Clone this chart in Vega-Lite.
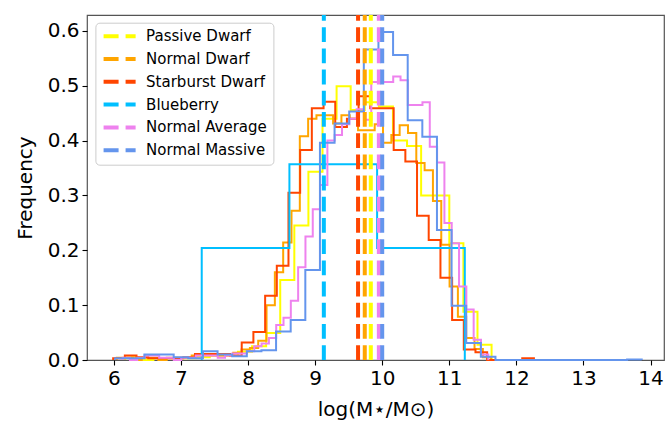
{
"$schema": "https://vega.github.io/schema/vega-lite/v6.json",
"width": 577, "height": 345,
"autosize": {"type": "none"},
"padding": {"left": 87, "top": 15, "right": 6, "bottom": 62},
"background": "white",
"config": {
 "font": "DejaVu Sans",
 "view": {"stroke": "#555555", "strokeWidth": 1.2},
 "axis": {"grid": false, "domain": false, "tickColor": "#000000", "tickSize": 5, "tickWidth": 1.1, "labelColor": "#000000", "labelFontSize": 20, "labelPadding": 3, "titleColor": "#000000", "titleFontSize": 20, "titleFontWeight": "normal"},
 "legend": {"orient": "none", "legendX": 8.4, "legendY": 7.7, "title": null, "fillColor": "rgba(255,255,255,0.8)", "strokeColor": "#cccccc", "cornerRadius": 4, "padding": 6, "labelFontSize": 15, "labelColor": "#000000", "labelOffset": 19, "rowPadding": 5.8, "symbolType": "M-3,0H3", "symbolSize": 114, "symbolStrokeWidth": 4, "symbolDash": [15, 7], "symbolOffset": 10.7}
},
"datasets": {
 "pd": [{"x":6.17,"y":0},{"x":6.17,"y":0.005},{"x":6.38,"y":0},{"x":6.59,"y":0.003},{"x":6.80,"y":0.003},{"x":7.01,"y":0.003},{"x":7.22,"y":0.005},{"x":7.43,"y":0.008},{"x":7.64,"y":0.008},{"x":7.85,"y":0.015},{"x":8.06,"y":0.025},{"x":8.27,"y":0.049},{"x":8.48,"y":0.146},{"x":8.69,"y":0.245},{"x":8.90,"y":0.343},{"x":9.11,"y":0.44},{"x":9.32,"y":0.499},{"x":9.53,"y":0.456},{"x":9.74,"y":0.47},{"x":9.95,"y":0.462},{"x":10.16,"y":0.40},{"x":10.37,"y":0.39},{"x":10.58,"y":0.30},{"x":10.79,"y":0.30},{"x":11.00,"y":0.213},{"x":11.21,"y":0.088},{"x":11.42,"y":0.028},{"x":11.63,"y":0}],
 "nd": [{"x":6.044,"y":0},{"x":6.044,"y":0.004},{"x":6.168,"y":0.004},{"x":6.292,"y":0},{"x":6.416,"y":0.004},{"x":6.540,"y":0.004},{"x":6.664,"y":0},{"x":6.788,"y":0.004},{"x":6.912,"y":0.004},{"x":7.036,"y":0.004},{"x":7.160,"y":0.008},{"x":7.284,"y":0.008},{"x":7.408,"y":0.008},{"x":7.532,"y":0.008},{"x":7.656,"y":0.008},{"x":7.780,"y":0.013},{"x":7.904,"y":0.019},{"x":8.028,"y":0.022},{"x":8.152,"y":0.035},{"x":8.276,"y":0.10},{"x":8.400,"y":0.16},{"x":8.524,"y":0.214},{"x":8.648,"y":0.272},{"x":8.772,"y":0.408},{"x":8.896,"y":0.44},{"x":9.020,"y":0.446},{"x":9.144,"y":0.446},{"x":9.268,"y":0.431},{"x":9.392,"y":0.446},{"x":9.516,"y":0.44},{"x":9.640,"y":0.419},{"x":9.764,"y":0.419},{"x":9.888,"y":0.43},{"x":10.012,"y":0.396},{"x":10.136,"y":0.41},{"x":10.260,"y":0.428},{"x":10.384,"y":0.414},{"x":10.508,"y":0.359},{"x":10.632,"y":0.346},{"x":10.756,"y":0.29},{"x":10.880,"y":0.21},{"x":11.004,"y":0.134},{"x":11.128,"y":0.079},{"x":11.252,"y":0.04},{"x":11.376,"y":0.02},{"x":11.500,"y":0.005},{"x":11.624,"y":0}],
 "sd": [{"x":5.990,"y":0},{"x":5.990,"y":0.003},{"x":6.164,"y":0.008},{"x":6.338,"y":0.005},{"x":6.513,"y":0.003},{"x":6.687,"y":0.003},{"x":6.861,"y":0.003},{"x":7.035,"y":0.005},{"x":7.209,"y":0.011},{"x":7.384,"y":0.011},{"x":7.558,"y":0.011},{"x":7.732,"y":0.008},{"x":7.906,"y":0.032},{"x":8.080,"y":0.051},{"x":8.255,"y":0.117},{"x":8.429,"y":0.172},{"x":8.603,"y":0.305},{"x":8.777,"y":0.383},{"x":8.951,"y":0.459},{"x":9.126,"y":0.471},{"x":9.300,"y":0.425},{"x":9.474,"y":0.44},{"x":9.648,"y":0.481},{"x":9.822,"y":0.459},{"x":9.997,"y":0.459},{"x":10.171,"y":0.383},{"x":10.345,"y":0.362},{"x":10.519,"y":0.263},{"x":10.693,"y":0.219},{"x":10.868,"y":0.150},{"x":11.042,"y":0.073},{"x":11.216,"y":0.019},{"x":11.390,"y":0.014},{"x":11.564,"y":0},{"x":12.087,"y":0.003},{"x":12.261,"y":0}],
 "bb": [{"x":7.310,"y":0},{"x":7.310,"y":0.204},{"x":8.617,"y":0.357},{"x":9.924,"y":0.204},{"x":11.231,"y":0}],
 "na": [{"x":6.131,"y":0},{"x":6.131,"y":0.004},{"x":6.240,"y":0},{"x":6.349,"y":0.004},{"x":6.458,"y":0.008},{"x":6.567,"y":0.008},{"x":6.676,"y":0.004},{"x":6.785,"y":0.004},{"x":6.894,"y":0},{"x":7.003,"y":0.004},{"x":7.112,"y":0.004},{"x":7.221,"y":0.008},{"x":7.330,"y":0.008},{"x":7.439,"y":0.008},{"x":7.548,"y":0.004},{"x":7.657,"y":0.008},{"x":7.766,"y":0.012},{"x":7.875,"y":0.012},{"x":7.984,"y":0.016},{"x":8.093,"y":0.025},{"x":8.202,"y":0.030},{"x":8.311,"y":0.040},{"x":8.420,"y":0.064},{"x":8.529,"y":0.077},{"x":8.638,"y":0.108},{"x":8.747,"y":0.169},{"x":8.856,"y":0.225},{"x":8.965,"y":0.275},{"x":9.074,"y":0.319},{"x":9.183,"y":0.40},{"x":9.292,"y":0.41},{"x":9.401,"y":0.43},{"x":9.510,"y":0.44},{"x":9.619,"y":0.457},{"x":9.728,"y":0.438},{"x":9.837,"y":0.507},{"x":9.946,"y":0.507},{"x":10.055,"y":0.507},{"x":10.164,"y":0.517},{"x":10.273,"y":0.51},{"x":10.382,"y":0.465},{"x":10.491,"y":0.465},{"x":10.600,"y":0.47},{"x":10.709,"y":0.389},{"x":10.818,"y":0.36},{"x":10.927,"y":0.25},{"x":11.036,"y":0.213},{"x":11.145,"y":0.134},{"x":11.254,"y":0.092},{"x":11.363,"y":0.037},{"x":11.472,"y":0.01},{"x":11.581,"y":0}],
 "nm": [{"x":6.020,"y":0},{"x":6.020,"y":0.003},{"x":6.238,"y":0.003},{"x":6.456,"y":0.010},{"x":6.674,"y":0.010},{"x":6.892,"y":0.005},{"x":7.110,"y":0.003},{"x":7.328,"y":0.016},{"x":7.546,"y":0.010},{"x":7.764,"y":0.007},{"x":7.982,"y":0.016},{"x":8.200,"y":0.018},{"x":8.418,"y":0.052},{"x":8.636,"y":0.073},{"x":8.854,"y":0.164},{"x":9.072,"y":0.396},{"x":9.290,"y":0.431},{"x":9.508,"y":0.453},{"x":9.726,"y":0.566},{"x":9.944,"y":0.598},{"x":10.162,"y":0.556},{"x":10.380,"y":0.437},{"x":10.598,"y":0.407},{"x":10.816,"y":0.237},{"x":11.034,"y":0.099},{"x":11.252,"y":0.031},{"x":11.470,"y":0.006},{"x":11.688,"y":0},{"x":13.650,"y":0.001},{"x":13.868,"y":0}],
 "means": [{"series":"Passive Dwarf","x":9.83},{"series":"Normal Dwarf","x":9.74},{"series":"Starburst Dwarf","x":9.64},{"series":"Blueberry","x":9.13},{"series":"Normal Average","x":9.95},{"series":"Normal Massive","x":10.0}]
},
"layer": [
 {"data": {"name": "pd"}, "mark": {"type": "line", "interpolate": "step-after", "strokeWidth": 2}, "encoding": {
   "x": {"field": "x", "type": "quantitative", "scale": {"domain": [5.6, 14.2], "nice": false, "zero": false}, "axis": {"values": [6,7,8,9,10,11,12,13,14], "format": "d", "title": "log(M⋆/M⊙)", "titlePadding": 11}},
   "y": {"field": "y", "type": "quantitative", "scale": {"domain": [0, 0.629], "nice": false, "zero": false}, "axis": {"values": [0,0.1,0.2,0.3,0.4,0.5,0.6], "format": ".1f", "title": "Frequency", "titlePadding": 12}},
   "color": {"datum": "Passive Dwarf", "type": "nominal", "scale": {"domain": ["Passive Dwarf","Normal Dwarf","Starburst Dwarf","Blueberry","Normal Average","Normal Massive"], "range": ["#FFFF00","#FFA500","#FF4500","#00BFFF","#EE82EE","#6495ED"]}}, "order": {"value": null}}},
 {"data": {"name": "nd"}, "mark": {"type": "line", "interpolate": "step-after", "strokeWidth": 2}, "encoding": {"x": {"field": "x", "type": "quantitative"}, "y": {"field": "y", "type": "quantitative"}, "color": {"datum": "Normal Dwarf", "type": "nominal"}, "order": {"value": null}}},
 {"data": {"name": "sd"}, "mark": {"type": "line", "interpolate": "step-after", "strokeWidth": 2}, "encoding": {"x": {"field": "x", "type": "quantitative"}, "y": {"field": "y", "type": "quantitative"}, "color": {"datum": "Starburst Dwarf", "type": "nominal"}, "order": {"value": null}}},
 {"data": {"name": "bb"}, "mark": {"type": "line", "interpolate": "step-after", "strokeWidth": 2}, "encoding": {"x": {"field": "x", "type": "quantitative"}, "y": {"field": "y", "type": "quantitative"}, "color": {"datum": "Blueberry", "type": "nominal"}, "order": {"value": null}}},
 {"data": {"name": "na"}, "mark": {"type": "line", "interpolate": "step-after", "strokeWidth": 2}, "encoding": {"x": {"field": "x", "type": "quantitative"}, "y": {"field": "y", "type": "quantitative"}, "color": {"datum": "Normal Average", "type": "nominal"}, "order": {"value": null}}},
 {"data": {"name": "nm"}, "mark": {"type": "line", "interpolate": "step-after", "strokeWidth": 2}, "encoding": {"x": {"field": "x", "type": "quantitative"}, "y": {"field": "y", "type": "quantitative"}, "color": {"datum": "Normal Massive", "type": "nominal"}, "order": {"value": null}}},
 {"data": {"name": "means"}, "mark": {"type": "rule", "strokeWidth": 4, "strokeDash": [14.8, 6.4]}, "encoding": {"x": {"field": "x", "type": "quantitative", "axis": {"values": [6,7,8,9,10,11,12,13,14], "format": "d", "title": "log(M⋆/M⊙)", "titlePadding": 11}}, "y": {"datum": 0}, "y2": {"datum": 0.629}, "color": {"field": "series", "type": "nominal"}}}
]
}
